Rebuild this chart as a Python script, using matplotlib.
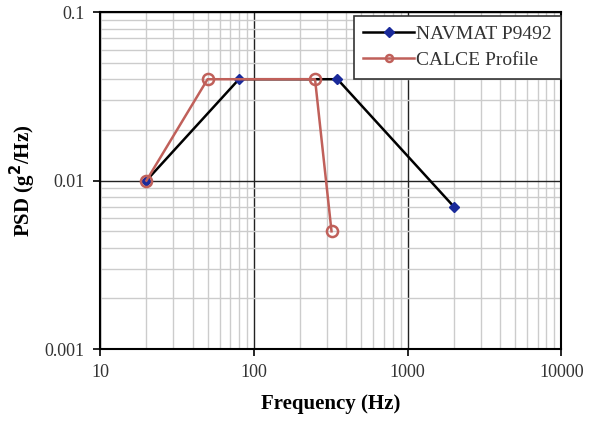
import matplotlib.pyplot as plt
from matplotlib.ticker import LogLocator, FixedFormatter, FixedLocator

plt.rcParams['font.family'] = ['Liberation Serif', 'DejaVu Serif']

# Profile breakpoints
navmat_freq = [20, 80, 350, 2000]
navmat_psd = [0.01, 0.04, 0.04, 0.007]
calce_freq = [20, 50, 250, 320]
calce_psd = [0.01, 0.04, 0.04, 0.005]

x_ticks = [10, 100, 1000, 10000]
x_labels = ['10', '100', '1000', '10000']
y_ticks = [0.001, 0.01, 0.1]
y_labels = ['0.001', '0.01', '0.1']

fig = plt.figure(figsize=(5.89, 4.21), dpi=100)
ax = fig.add_axes([0.170, 0.171, 0.783, 0.800])

ax.plot(navmat_freq, navmat_psd, color='black', lw=1.8, marker='D', ms=5,
        mfc='#1a2a9a', mec='#1a2a9a', label='NAVMAT P9492', zorder=3)
ax.plot(calce_freq, calce_psd, color='#c0605a', lw=1.8, marker='o', ms=8,
        mfc='none', mec='#c0605a', mew=1.8, label='CALCE Profile', zorder=4)

ax.set_xscale('log')
ax.set_yscale('log')
ax.set_xlim(10, 10000)
ax.set_ylim(0.001, 0.1)

ax.xaxis.set_major_locator(FixedLocator(x_ticks))
ax.xaxis.set_major_formatter(FixedFormatter(x_labels))
ax.yaxis.set_major_locator(FixedLocator(y_ticks))
ax.yaxis.set_major_formatter(FixedFormatter(y_labels))
ax.xaxis.set_minor_locator(LogLocator(base=10, subs=range(2, 10)))
ax.yaxis.set_minor_locator(LogLocator(base=10, subs=range(2, 10)))
ax.tick_params(which='minor', length=0)
ax.tick_params(which='major', length=5, width=1.2, direction='out',
               labelsize=13, colors='black', labelcolor='#333333')
ax.tick_params(axis='x', pad=6)
ax.tick_params(axis='y', pad=6)

ax.grid(which='major', color='#222222', lw=1.0)
ax.grid(which='minor', color='#cccccc', lw=1.0)
ax.set_axisbelow(True)
for s in ax.spines.values():
    s.set_color('black')
    s.set_linewidth(1.5)

ax.set_xlabel('Frequency (Hz)', fontsize=15, fontweight='bold', labelpad=9)
ax.set_ylabel('PSD (g$^{\\mathbf{2}}$/Hz)', fontsize=15, fontweight='bold', labelpad=5)

leg = ax.legend(loc='upper right', bbox_to_anchor=(1.0, 0.99), fontsize=14,
                frameon=True, fancybox=False, edgecolor='#333333', framealpha=1,
                borderaxespad=0, borderpad=0.5, handlelength=2.6,
                handletextpad=0.1, labelspacing=0.45)
leg.get_frame().set_linewidth(1.2)
for t in leg.get_texts():
    t.set_color('#333333')
for h in leg.legend_handles:
    h.set_markersize(5)

fig.savefig('out.png', dpi=100)
